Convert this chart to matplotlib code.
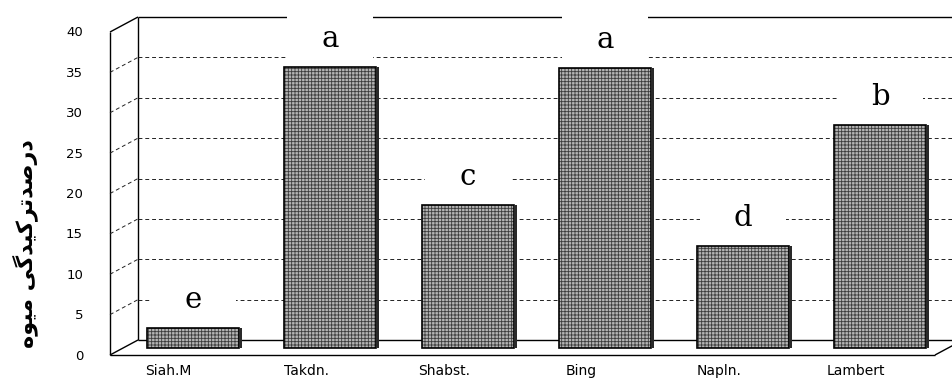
import matplotlib.pyplot as plt
import matplotlib.transforms as mtransforms
from matplotlib.patches import Rectangle

categories = ['Siah.M', 'Takdn.', 'Shabst.', 'Bing', 'Napln.', 'Lambert']
cracking = [2.45, 34.7, 17.6, 34.6, 12.6, 27.6]
groups = ['e', 'a', 'c', 'a', 'd', 'b']
yticks = [0, 5, 10, 15, 20, 25, 30, 35, 40]

# matplotlib does not shape Arabic script, so the Persian label is spelled
# with presentation forms and reversed into visual order
ylabel_forms = [0xFEA9, 0xFEAD, 0xFEBB, 0xFEAA,
                0xFE97, 0xFEAE, 0xFB90, 0xFBFF, 0xFEAA, 0xFB94, 0xFBFD, 0x20,
                0xFEE3, 0xFBFF, 0xFEEE, 0xFEE9]
ylabel = ''.join(chr(c) for c in reversed(ylabel_forms))

W, H = 952, 381
fig = plt.figure(figsize=(W / 100, H / 100), dpi=100)

# geometry of the pseudo-3D frame (pixels)
XPX = 137.5          # px per category
YPX = 8.075          # px per percent
X0, Y0 = 138, 340    # back wall: left edge, zero line (from top)
DX = -28 / XPX       # depth shift from back wall to front plane
DY = -15 / YPX

xmin, xmax = -0.5 + DX - 0.05, 5.5
ymin, ymax = DY - 0.3, 41
left = X0 + (xmin + 0.5) * XPX
bottom = H - (Y0 - ymin * YPX)
ax = fig.add_axes([left / W, bottom / H,
                   (xmax - xmin) * XPX / W, (ymax - ymin) * YPX / H])
ax.set_xlim(xmin, xmax)
ax.set_ylim(ymin, ymax)
ax.axis('off')

solid = dict(color='black', lw=1.0, solid_capstyle='butt', zorder=1)
dashed = dict(color='#222222', lw=0.7, ls=(0, (4, 3)), zorder=1)

# walls and floor
ax.plot([-0.5, -0.5], [0, 40], **solid)
ax.plot([-0.5, 5.5], [40, 40], **solid)
ax.plot([-0.5, 5.5], [0, 0], **solid)
ax.plot([-0.5 + DX] * 2, [DY, 40 + DY], **solid)
ax.plot([-0.5 + DX, -0.5], [40 + DY, 40], **solid)
ax.plot([-0.5 + DX, -0.5], [DY, 0], **solid)
ax.plot([-0.5 + DX, 5.5 + DX], [DY, DY], **solid)
ax.plot([5.5 + DX, 5.5], [DY, 0], **solid)
for v in yticks[1:-1]:
    ax.plot([-0.5, 5.5], [v, v], **dashed)
    ax.plot([-0.5 + DX, -0.5], [v + DY, v], **dashed)

# y tick labels on the front edge of the side wall
tick_tr = mtransforms.offset_copy(ax.transData, fig=fig, x=-27, y=-1, units='dots')
for v in yticks:
    ax.text(-0.5 + DX, v + DY, str(v), transform=tick_tr, ha='right',
            va='center', fontsize=9.5, family='DejaVu Sans')

# category labels under the front floor edge
cat_tr = mtransforms.offset_copy(ax.transData, fig=fig, x=-10, y=-9, units='dots')
for i, name in enumerate(categories):
    ax.text(i + DX, DY, name, transform=cat_tr, ha='center', va='top',
            fontsize=10, family='DejaVu Sans')

# bars sit halfway into the depth of the floor
plt.rcParams['hatch.linewidth'] = 0.6
xs = [i + DX / 2 for i in range(len(categories))]
bw = 0.67
side = 3 / XPX
ax.bar(xs, cracking, bw, bottom=DY / 2, color='#b4b4b4', edgecolor='#3c3c3c',
       hatch='+++++', linewidth=0, zorder=3)
ax.bar(xs, cracking, bw, bottom=DY / 2, fill=False, edgecolor='black',
       linewidth=1.2, zorder=3.5)
ax.bar([x + bw / 2 + side / 2 for x in xs], cracking, side, bottom=DY / 2,
       color='#2a2a2a', linewidth=0, zorder=3.5)

# significance letters with white boxes that mask the grid
for x, v, g in zip(xs, cracking, groups):
    top = v + DY / 2
    ax.add_patch(Rectangle((x - 43 / XPX, top - 3 / YPX), 86 / XPX, 60 / YPX,
                           facecolor='white', edgecolor='none', zorder=2))
    ax.text(x, top + 20 / YPX, g, ha='center', va='baseline', fontsize=21,
            family='DejaVu Serif', zorder=4)

fig.text(25 / W, 1 - 244 / H, ylabel, rotation=90, ha='center', va='center',
         fontsize=16, fontweight='bold', family='DejaVu Sans')

fig.savefig('out.png', dpi=100)
